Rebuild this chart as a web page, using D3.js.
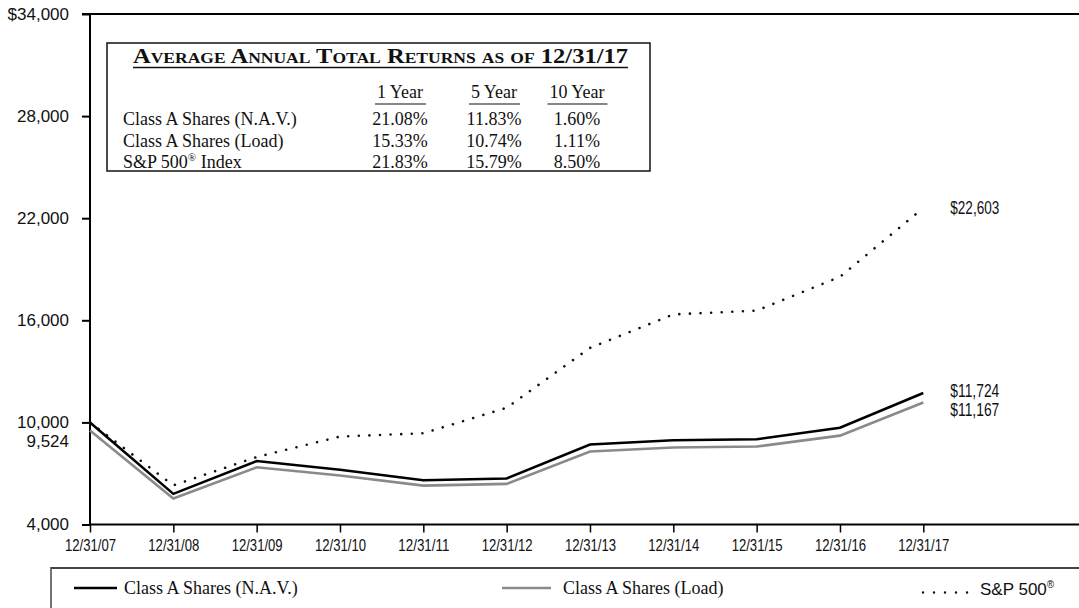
<!DOCTYPE html>
<html><head><meta charset="utf-8">
<script src="https://cdn.jsdelivr.net/npm/d3@7"></script>
<style>
html,body{margin:0;padding:0;background:#fff;}
svg{display:block;}
</style></head>
<body>
<svg id="chart" width="1079" height="608"></svg>
<script>
// ---- data ----
const dates = ["12/31/07","12/31/08","12/31/09","12/31/10","12/31/11","12/31/12","12/31/13","12/31/14","12/31/15","12/31/16","12/31/17"];
const navValues  = [10000, 5800, 7730, 7220, 6600, 6704, 8700, 8950, 9010, 9683, 11724];
const loadValues = [9524, 5524, 7362, 6876, 6286, 6385, 8286, 8524, 8581, 9222, 11167];
const spValues   = [10000, 6300, 7967, 9168, 9361, 10860, 14377, 16345, 16571, 18553, 22603];
const yTicks = [4000, 10000, 16000, 22000, 28000, 34000];
const yTickLabels = ["4,000", "10,000", "16,000", "22,000", "28,000", "$34,000"];
const loadStartLabel = "9,524";
const endLabels = ["$11,724", "$11,167", "$22,603"];
const seriesNames = ["Class A Shares (N.A.V.)", "Class A Shares (Load)", "S&P 500"];
const tableTitle = "Average Annual Total Returns as of";
const tableDate = "12/31/17";
const tableCols = ["1 Year", "5 Year", "10 Year"];
const tableRows = ["Class A Shares (N.A.V.)", "Class A Shares (Load)", "S&P 500"];
const navReturns  = ["21.08%", "11.83%", "1.60%"];
const loadReturns = ["15.33%", "10.74%", "1.11%"];
const spReturns   = ["21.83%", "15.79%", "8.50%"];

// ---- setup ----
const svg = d3.select("#chart");
const SANS = "'Liberation Sans', Arial, Helvetica, sans-serif";
const SERIF = "'Liberation Serif', 'Times New Roman', serif";

const x = d3.scalePoint().domain(dates).range([90, 923.3]);
const y = d3.scaleLinear().domain([4000, 34000]).range([524.5, 14]);

// y axis
const yAxis = d3.axisLeft(y).tickValues(yTicks).tickSize(8).tickSizeOuter(0)
  .tickFormat((d, i) => yTickLabels[i]);
const gy = svg.append("g").attr("transform", "translate(90,0)").call(yAxis);
gy.select(".domain").remove();
gy.selectAll(".tick line").attr("stroke", "#000").attr("stroke-width", 2);
gy.selectAll(".tick text").attr("x", -21).attr("font-family", SANS).attr("font-size", 17).attr("fill", "#111");

// 9,524 label (load start value)
svg.append("text").attr("x", 69).attr("y", y(loadValues[0]) + 11).attr("dy", "0.32em")
  .attr("text-anchor", "end").attr("font-family", SANS).attr("font-size", 17).attr("fill", "#111")
  .text(loadStartLabel);

// x axis
const xAxis = d3.axisBottom(x).tickSize(8).tickSizeOuter(0);
const gx = svg.append("g").attr("transform", `translate(0,${y(4000)})`).call(xAxis);
gx.select(".domain").remove();
gx.selectAll(".tick line").attr("stroke", "#000").attr("stroke-width", 1.5);
gx.selectAll(".tick text").attr("y", 15).attr("dy", "0.71em").attr("font-family", SANS)
  .attr("font-size", 16).attr("fill", "#111")
  .attr("textLength", 51).attr("lengthAdjust", "spacingAndGlyphs");

// frame lines
svg.append("line").attr("x1", 82).attr("x2", 1079).attr("y1", y(34000)).attr("y2", y(34000)).attr("stroke", "#000").attr("stroke-width", 2);
svg.append("line").attr("x1", 90).attr("x2", 90).attr("y1", y(34000)).attr("y2", y(4000) + 1).attr("stroke", "#000").attr("stroke-width", 2);
svg.append("line").attr("x1", 89).attr("x2", 1079).attr("y1", y(4000)).attr("y2", y(4000)).attr("stroke", "#000").attr("stroke-width", 2.2);

// lines
const lineGen = d3.line().x((d, i) => x(dates[i])).y(d => y(d));
svg.append("path").datum(spValues).attr("d", lineGen).attr("fill", "none")
  .attr("stroke", "#111").attr("stroke-width", 2.6).attr("stroke-linecap", "round")
  .attr("stroke-dasharray", "0.01,10.6");
svg.append("path").datum(loadValues).attr("d", lineGen).attr("fill", "none")
  .attr("stroke", "#8a8a8a").attr("stroke-width", 2.6).attr("stroke-linejoin", "miter");
svg.append("path").datum(navValues).attr("d", lineGen).attr("fill", "none")
  .attr("stroke", "#000").attr("stroke-width", 2.6).attr("stroke-linejoin", "miter");

// end labels
const lastX = x(dates[dates.length - 1]) + 27;
[[navValues, 0, -2], [loadValues, 1, 7], [spValues, 2, 0]].forEach(([arr, k, off]) => {
  svg.append("text").attr("x", lastX).attr("y", y(arr[arr.length - 1]) + off).attr("dy", "0.35em")
    .attr("font-family", SANS).attr("font-size", 18).attr("fill", "#111")
    .attr("textLength", 49).attr("lengthAdjust", "spacingAndGlyphs").text(endLabels[k]);
});

// ---- table box ----
const tb = svg.append("g");
tb.append("rect").attr("x", 107).attr("y", 43).attr("width", 543).attr("height", 128)
  .attr("fill", "#fff").attr("stroke", "#111").attr("stroke-width", 1.5);
const title = tb.append("text").attr("x", 133).attr("y", 63).attr("font-family", SERIF)
  .attr("font-weight", "bold").attr("font-size", 21).attr("fill", "#111")
  .attr("textLength", 495).attr("lengthAdjust", "spacingAndGlyphs");
title.append("tspan").attr("font-variant", "small-caps").text(tableTitle + " ");
title.append("tspan").text(tableDate);
tb.append("line").attr("x1", 133).attr("x2", 628).attr("y1", 67.5).attr("y2", 67.5).attr("stroke", "#111").attr("stroke-width", 1.4);

const colX = [400, 494, 577];
tableCols.forEach((c, i) => {
  const t = tb.append("text").attr("x", colX[i]).attr("y", 98).attr("text-anchor", "middle")
    .attr("font-family", SERIF).attr("font-size", 18).attr("fill", "#111").text(c);
  const w = t.node().getComputedTextLength();
  tb.append("line").attr("x1", colX[i] - w / 2 - 2).attr("x2", colX[i] + w / 2 + 3)
    .attr("y1", 104).attr("y2", 104).attr("stroke", "#111").attr("stroke-width", 1.2);
});
const rowY = [125, 146.5, 168];
const rowVals = [navReturns, loadReturns, spReturns];
tableRows.forEach((r, i) => {
  const t = tb.append("text").attr("x", 123).attr("y", rowY[i]).attr("font-family", SERIF)
    .attr("font-size", 18).attr("fill", "#111").text(r);
  if (i === 2) {
    t.append("tspan").attr("font-size", 11).attr("dy", -7).text("®");
    t.append("tspan").attr("dy", 7).text(" Index");
  }
  rowVals[i].forEach((v, j) => {
    tb.append("text").attr("x", colX[j]).attr("y", rowY[i]).attr("text-anchor", "middle")
      .attr("font-family", SERIF).attr("font-size", 18).attr("fill", "#111").text(v);
  });
});

// ---- legend ----
const lg = svg.append("g");
lg.append("line").attr("x1", 51).attr("x2", 1079).attr("y1", 568).attr("y2", 568).attr("stroke", "#444").attr("stroke-width", 2);
lg.append("line").attr("x1", 51).attr("x2", 51).attr("y1", 567).attr("y2", 608).attr("stroke", "#444").attr("stroke-width", 1.5);
const legendY = 588;
lg.append("line").attr("x1", 74).attr("x2", 117).attr("y1", legendY).attr("y2", legendY).attr("stroke", "#000").attr("stroke-width", 2.6);
lg.append("text").attr("x", 124).attr("y", legendY + 6).attr("font-family", SERIF).attr("font-size", 18).attr("fill", "#111").text(seriesNames[0]);
lg.append("line").attr("x1", 502).attr("x2", 551).attr("y1", legendY).attr("y2", legendY).attr("stroke", "#8a8a8a").attr("stroke-width", 2.6);
lg.append("text").attr("x", 563).attr("y", legendY + 6).attr("font-family", SERIF).attr("font-size", 18).attr("fill", "#111").text(seriesNames[1]);
lg.append("line").attr("x1", 923).attr("x2", 968).attr("y1", legendY + 4.5).attr("y2", legendY + 4.5)
  .attr("stroke", "#111").attr("stroke-width", 2.4).attr("stroke-linecap", "round").attr("stroke-dasharray", "0.01,11");
const st = lg.append("text").attr("x", 980).attr("y", legendY + 7).attr("font-family", SANS).attr("font-size", 17).attr("fill", "#111").text(seriesNames[2]);
st.append("tspan").attr("font-size", 10).attr("dy", -7).text("®");
</script>
</body></html>
